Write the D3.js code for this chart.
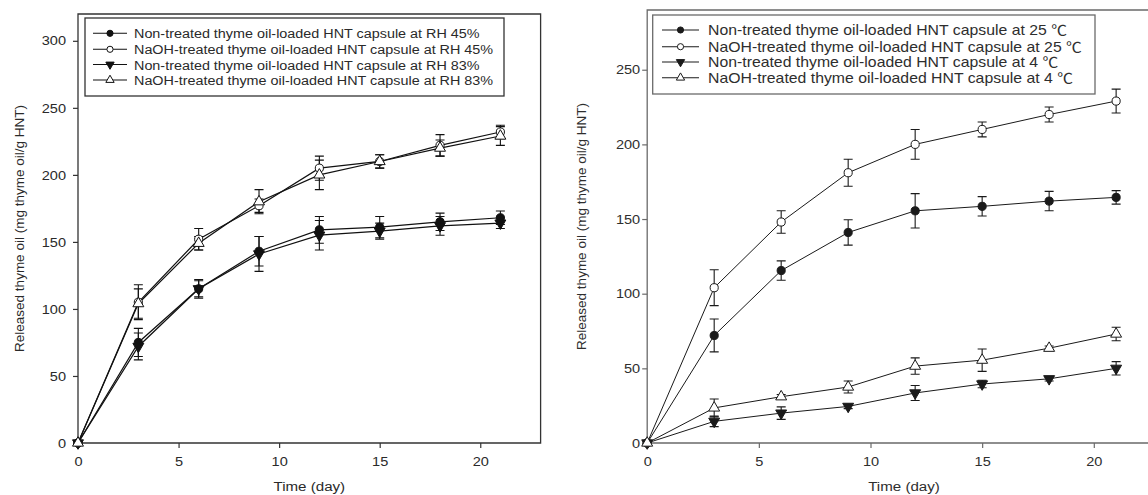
<!DOCTYPE html>
<html>
<head>
<meta charset="utf-8">
<script src="https://cdn.jsdelivr.net/npm/d3@7"></script>
<style>
  body { margin: 0; background: #fff; }
  svg { display: block; }
  text { font-family: "Liberation Sans", Arial, "Noto Sans CJK KR", sans-serif; }
</style>
</head>
<body>
<svg id="chart" width="1148" height="495"></svg>
<script>
// Sampling days shared by every series
const days = [0, 3, 6, 9, 12, 15, 18, 21];
const xTicks = [0, 5, 10, 15, 20];

// Relative-humidity panel: release (mg thyme oil / g HNT) and standard deviations
const rhNonTreated45 = [0, 75, 115, 143, 159, 161, 165, 168];
const rhNonTreated45Err = [0, 10.5, 7, 11, 10, 8, 6.5, 5];
const rhNaoh45 = [0, 105, 152, 177, 205, 210, 222, 232];
const rhNaoh45Err = [0, 13, 8, 5, 9, 5, 8, 5];
const rhNonTreated83 = [0, 72, 115, 141, 155, 158, 162, 164];
const rhNonTreated83Err = [0, 10, 6, 13, 11, 6, 7, 4];
const rhNaoh83 = [0, 104, 149, 180, 200, 210, 220, 229];
const rhNaoh83Err = [0, 11, 5, 9, 11, 5, 6, 7];
const rhYTicks = [0, 50, 100, 150, 200, 250, 300];
const rhLabels = [
  "Non-treated thyme oil-loaded HNT capsule at RH 45%",
  "NaOH-treated thyme oil-loaded HNT capsule at RH 45%",
  "Non-treated thyme oil-loaded HNT capsule at RH 83%",
  "NaOH-treated thyme oil-loaded HNT capsule at RH 83%"
];

// Temperature panel
const tNonTreated25 = [0, 72, 115.5, 141, 155.5, 158.5, 162, 164.5];
const tNonTreated25Err = [0, 11, 6.5, 8.5, 11.5, 6.5, 6.5, 4.5];
const tNaoh25 = [0, 104, 148, 181, 200, 210, 220, 229];
const tNaoh25Err = [0, 12, 7.5, 9, 10, 5, 5, 8];
const tNonTreated4 = [0, 14.5, 20, 24.5, 33.5, 39.5, 43, 50];
const tNonTreated4Err = [0, 3.5, 4.2, 1.5, 5, 2.5, 1.5, 4.5];
const tNaoh4 = [0, 23.5, 31, 37.5, 51.5, 55.5, 63.5, 73];
const tNaoh4Err = [0, 6, 1.5, 4, 5.5, 7.5, 1.5, 4.5];
const tYTicks = [0, 50, 100, 150, 200, 250];
const tLabels = [
  "Non-treated thyme oil-loaded HNT capsule at 25 \u2103",
  "NaOH-treated thyme oil-loaded HNT capsule at 25 \u2103",
  "Non-treated thyme oil-loaded HNT capsule at 4 \u2103",
  "NaOH-treated thyme oil-loaded HNT capsule at 4 \u2103"
];

const markers = ["filledCircle", "openCircle", "filledDown", "openUp"];

const yTitle = "Released thyme oil (mg thyme oil/g HNT)";
const xTitle = "Time (day)";

const svg = d3.select("#chart");
svg.append("rect").attr("width", 1148).attr("height", 495).attr("fill", "#fff");

function symbolPath(kind, size) {
  const type = kind.endsWith("Circle") ? d3.symbolCircle : d3.symbolTriangle;
  return d3.symbol().type(type).size(size)();
}

function drawMarker(g, kind, cx, cy, size, color) {
  const filled = kind.startsWith("filled");
  g.append("path")
    .attr("d", symbolPath(kind, size))
    .attr("transform", `translate(${cx},${cy})` + (kind === "filledDown" ? " rotate(180)" : ""))
    .attr("fill", filled ? color : "#fff")
    .attr("stroke", color)
    .attr("stroke-width", 1);
}

function drawPanel(cfg) {
  const g = svg.append("g");
  const x = d3.scaleLinear().domain([0, 23]).range([cfg.left, cfg.right]);
  const y = d3.scaleLinear().domain([0, cfg.yMax]).range([cfg.bottom, cfg.top]);
  const s = cfg.stretch;

  // frame
  g.append("path")
    .attr("d", `M${cfg.left},${cfg.top}H${cfg.right}V${cfg.bottom}H${cfg.left}Z`)
    .attr("fill", "none").attr("stroke", cfg.axisColor).attr("stroke-width", 1.3);

  // axes
  const ya = g.append("g").attr("transform", `translate(${cfg.left},0)`)
    .call(d3.axisLeft(y).tickValues(cfg.yTicks).tickSize(5).tickSizeOuter(0).tickPadding(cfg.yPad));
  const xa = g.append("g").attr("transform", `translate(0,${cfg.bottom})`)
    .call(d3.axisBottom(x).tickValues(xTicks).tickSize(5).tickSizeOuter(0).tickPadding(cfg.xPad));
  [ya, xa].forEach(a => {
    a.select(".domain").remove();
    a.selectAll(".tick line").attr("stroke", cfg.axisColor).attr("stroke-width", 1.2);
    a.selectAll(".tick text")
      .attr("font-size", 13).attr("fill", cfg.textColor)
      .style("font-family", '"Liberation Sans", Arial, sans-serif');
  });
  ya.selectAll(".tick text")
    .attr("x", -(5 + cfg.yPad) / s)
    .attr("transform", `scale(${s},1)`);
  xa.selectAll(".tick text").attr("transform", `scale(${s},1)`);

  // axis titles
  g.append("text")
    .attr("transform", `translate(${cfg.yTitleX},${(cfg.top + cfg.bottom) / 2}) rotate(-90)`)
    .attr("text-anchor", "middle").attr("dy", "0.35em")
    .attr("font-size", 13.5).attr("fill", cfg.textColor).text(yTitle);
  g.append("text")
    .attr("transform", `translate(${(cfg.left + x(23)) / 2},${cfg.xTitleY}) scale(${s},1)`)
    .attr("text-anchor", "middle")
    .attr("font-size", 13.5).attr("fill", cfg.textColor).text(xTitle);

  const line = d3.line().x((d, i) => x(days[i])).y(d => y(d));

  // curves
  cfg.series.forEach(se => {
    g.append("path").attr("d", line(se.values))
      .attr("fill", "none").attr("stroke", cfg.lineColor).attr("stroke-width", cfg.lineWidth);
  });
  // error bars
  cfg.series.forEach(se => {
    se.values.forEach((v, i) => {
      const e = se.errors[i];
      if (!e) return;
      const cx = x(days[i]), y1 = y(v + e), y2 = y(v - e);
      g.append("path")
        .attr("d", `M${cx},${y1}V${y2}M${cx - 4.5},${y1}H${cx + 4.5}M${cx - 4.5},${y2}H${cx + 4.5}`)
        .attr("fill", "none").attr("stroke", cfg.lineColor).attr("stroke-width", 1.1);
    });
  });
  // markers
  cfg.series.forEach(se => {
    se.values.forEach((v, i) => drawMarker(g, se.marker, x(days[i]), y(v), 52, cfg.lineColor));
  });

  // legend
  const L = cfg.legend;
  g.append("rect").attr("x", L.x).attr("y", L.y).attr("width", L.w).attr("height", L.h)
    .attr("fill", "#fff").attr("stroke", cfg.axisColor).attr("stroke-width", 1.3);
  cfg.series.forEach((se, i) => {
    const ry = L.rows[i];
    g.append("line").attr("x1", L.lineX[0]).attr("x2", L.lineX[1]).attr("y1", ry).attr("y2", ry)
      .attr("stroke", cfg.lineColor).attr("stroke-width", 1.1);
    drawMarker(g, se.marker, (L.lineX[0] + L.lineX[1]) / 2, ry, 30, cfg.lineColor);
    g.append("text")
      .attr("transform", `translate(${L.textX},${ry + 5}) scale(${L.stretch},1)`)
      .attr("font-size", L.fontSize).attr("fill", cfg.textColor).text(se.label);
  });
}

drawPanel({
  left: 78, right: 540.6, top: 14, bottom: 443, yMax: 320, yTicks: rhYTicks,
  yPad: 7, xPad: 9, stretch: 1.12,
  axisColor: "#333", textColor: "#2a2a2a", lineColor: "#111", lineWidth: 1.2,
  yTitleX: 19, xTitleY: 491,
  series: [
    { label: rhLabels[0], values: rhNonTreated45, errors: rhNonTreated45Err, marker: markers[0] },
    { label: rhLabels[1], values: rhNaoh45, errors: rhNaoh45Err, marker: markers[1] },
    { label: rhLabels[2], values: rhNonTreated83, errors: rhNonTreated83Err, marker: markers[2] },
    { label: rhLabels[3], values: rhNaoh83, errors: rhNaoh83Err, marker: markers[3] }
  ],
  legend: { x: 85, y: 18, w: 419, h: 78, rows: [33.3, 49.3, 64.5, 80], lineX: [93, 127], textX: 134, stretch: 1.065, fontSize: 13.5 }
});

drawPanel({
  left: 647.2, right: 647.2 + 23 * 22.33, top: 10, bottom: 443, yMax: 290, yTicks: tYTicks,
  yPad: 2, xPad: 9, stretch: 1.12,
  axisColor: "#6a6a6a", textColor: "#2e2e2e", lineColor: "#1a1a1a", lineWidth: 1,
  yTitleX: 581, xTitleY: 491,
  series: [
    { label: tLabels[0], values: tNonTreated25, errors: tNonTreated25Err, marker: markers[0] },
    { label: tLabels[1], values: tNaoh25, errors: tNaoh25Err, marker: markers[1] },
    { label: tLabels[2], values: tNonTreated4, errors: tNonTreated4Err, marker: markers[2] },
    { label: tLabels[3], values: tNaoh4, errors: tNaoh4Err, marker: markers[3] }
  ],
  legend: { x: 652.7, y: 15, w: 442.3, h: 79, rows: [30, 46.7, 62, 77.7], lineX: [662, 699], textX: 708, stretch: 1.13, fontSize: 14 }
});
</script>
</body>
</html>
